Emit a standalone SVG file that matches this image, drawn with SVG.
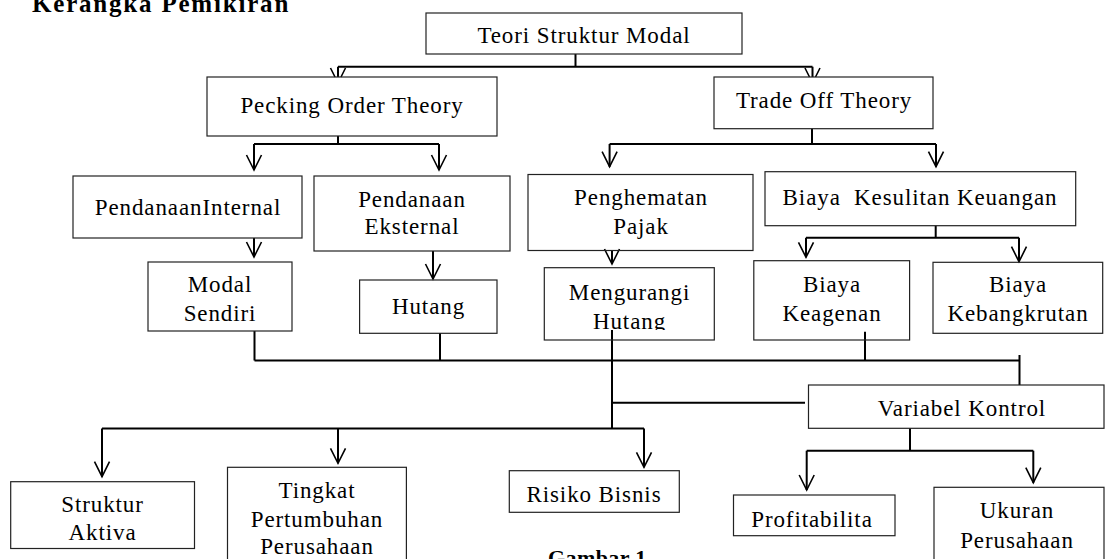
<svg xmlns="http://www.w3.org/2000/svg" width="1108" height="559" viewBox="0 0 1108 559">
<style>
.box{fill:none;stroke:#222;stroke-width:1.2}
.t{font-family:"Liberation Serif","Times New Roman",serif;font-size:23px;letter-spacing:0.9px;fill:#000;text-anchor:middle}
.c{fill:none;stroke:#000;stroke-width:2}
.a{fill:none;stroke:#000;stroke-width:2;marker-end:url(#ah)}
.hd{font-family:"Liberation Serif","Times New Roman",serif;font-weight:bold;fill:#000}
</style>
<defs>
<marker id="ah" markerUnits="userSpaceOnUse" markerWidth="20" markerHeight="20" refX="0" refY="0" orient="auto" overflow="visible">
<path d="M-15,-7.5 L0,0 L-15,7.5" fill="none" stroke="#000" stroke-width="1.6"/>
</marker>
<clipPath id="cut"><rect x="540" y="260" width="180" height="70"/></clipPath>
</defs>
<rect width="1108" height="559" fill="#fff"/>
<text class="hd" x="32" y="12" font-size="25" letter-spacing="1.8">Kerangka Pemikiran</text>
<g id="connectors">
<path class="c" d="M575.5,54 V66.7 M338,66.7 H812.5 M338,66.7 V77 M812.5,66.7 V77"/>
<path d="M330.5,68 L335,77 M345.5,68 L341,77 M805,68 L809.5,77 M820,68 L815.5,77" fill="none" stroke="#000" stroke-width="1.6"/>
<path class="c" d="M338,136 V144 M254,144 H439"/>
<path class="a" d="M254,144 V170"/>
<path class="a" d="M439,144 V170"/>
<path class="c" d="M812,128.7 V144 M609.6,144 H936"/>
<path class="a" d="M609.6,144 V166.7"/>
<path class="a" d="M936,144 V166.7"/>
<path class="a" d="M254,238 V257"/>
<path class="a" d="M433,251 V279"/>
<path class="a" d="M612,250.5 V264"/>
<path class="c" d="M935.7,225.7 V237.7 M806,237.7 H1019"/>
<path class="a" d="M806,237.7 V257.3"/>
<path class="a" d="M1019,237.7 V261.7"/>
<path class="c" d="M254.5,331 V360.5 M440,333 V360.5 M865,331.7 V360.5 M254.5,360.5 H1019.5 M1019.5,355 V385 M612,330 V429 M612,402.7 H805 M102,428.5 H644"/>
<path class="a" d="M102,428.5 V476.7"/>
<path class="a" d="M338,428.5 V463.3"/>
<path class="a" d="M644,428.5 V467.3"/>
<path class="c" d="M910,428.3 V450.7 M806.7,450.7 H1033.3"/>
<path class="a" d="M806.7,450.7 V490"/>
<path class="a" d="M1033.3,450.7 V482.7"/>
</g>
<g id="teori"><rect class="box" x="426" y="13" width="316" height="41"/><text class="t" x="584" y="43">Teori Struktur Modal</text></g>
<g id="pecking"><rect class="box" x="207" y="77" width="290" height="59"/><text class="t" x="352" y="113">Pecking Order Theory</text></g>
<g id="tradeoff"><rect class="box" x="714" y="77" width="219" height="51.7"/><text class="t" x="824" y="108.3">Trade Off Theory</text></g>
<g id="internal"><rect class="box" x="73" y="176" width="229" height="62"/><text class="t" x="188" y="215">PendanaanInternal</text></g>
<g id="eksternal"><rect class="box" x="314" y="176" width="196" height="75"/><text class="t"><tspan x="412" y="206.7">Pendanaan</tspan><tspan x="412" y="234.3">Eksternal</tspan></text></g>
<g id="pajak"><rect class="box" x="528" y="174.5" width="225" height="76"/><text class="t"><tspan x="641" y="205">Penghematan</tspan><tspan x="641" y="234">Pajak</tspan></text></g>
<g id="kesulitan"><rect class="box" x="765" y="171.7" width="310.7" height="54"/><text class="t" x="920" y="205">Biaya&#160; Kesulitan Keuangan</text></g>
<g id="modal"><rect class="box" x="148" y="262" width="144" height="69"/><text class="t"><tspan x="220" y="291.7">Modal</tspan><tspan x="220" y="320.7">Sendiri</tspan></text></g>
<g id="hutang"><rect class="box" x="359.6" y="280" width="137.4" height="53.3"/><text class="t" x="428.5" y="314">Hutang</text></g>
<g id="mengurangi"><rect class="box" x="544.3" y="267.7" width="170" height="72.3"/><text class="t" clip-path="url(#cut)"><tspan x="629.5" y="300">Mengurangi</tspan><tspan x="629.5" y="328.5">Hutang</tspan></text></g>
<g id="keagenan"><rect class="box" x="753.8" y="260.7" width="155.8" height="79.3"/><text class="t"><tspan x="832" y="291.7">Biaya</tspan><tspan x="832" y="320.7">Keagenan</tspan></text></g>
<g id="kebangkrutan"><rect class="box" x="933" y="262.3" width="169.7" height="71"/><text class="t"><tspan x="1018" y="291.7">Biaya</tspan><tspan x="1018" y="320.7">Kebangkrutan</tspan></text></g>
<g id="kontrol"><rect class="box" x="808.5" y="385" width="295.5" height="43.3"/><text class="t" x="962" y="415.5">Variabel Kontrol</text></g>
<g id="aktiva"><rect class="box" x="10.7" y="481.7" width="183.8" height="66.8"/><text class="t"><tspan x="102.5" y="512.3">Struktur</tspan><tspan x="102.5" y="540">Aktiva</tspan></text></g>
<g id="pertumbuhan"><rect class="box" x="227.5" y="467.3" width="178.9" height="110"/><text class="t"><tspan x="317" y="498.3">Tingkat</tspan><tspan x="317" y="526.7">Pertumbuhan</tspan><tspan x="317" y="554">Perusahaan</tspan></text></g>
<g id="risiko"><rect class="box" x="509.3" y="470.7" width="170" height="41.6"/><text class="t" x="594" y="501.7" letter-spacing="0.3">Risiko Bisnis</text></g>
<g id="profitabilita"><rect class="box" x="733.5" y="495" width="161.5" height="40.7"/><text class="t" x="812" y="526.7">Profitabilita</text></g>
<g id="ukuran"><rect class="box" x="934" y="487.3" width="170" height="90"/><text class="t"><tspan x="1017" y="518.3">Ukuran</tspan><tspan x="1017" y="548.3">Perusahaan</tspan></text></g>
<text class="hd" x="548" y="565" font-size="22" letter-spacing="0.4">Gambar 1</text>
</svg>
